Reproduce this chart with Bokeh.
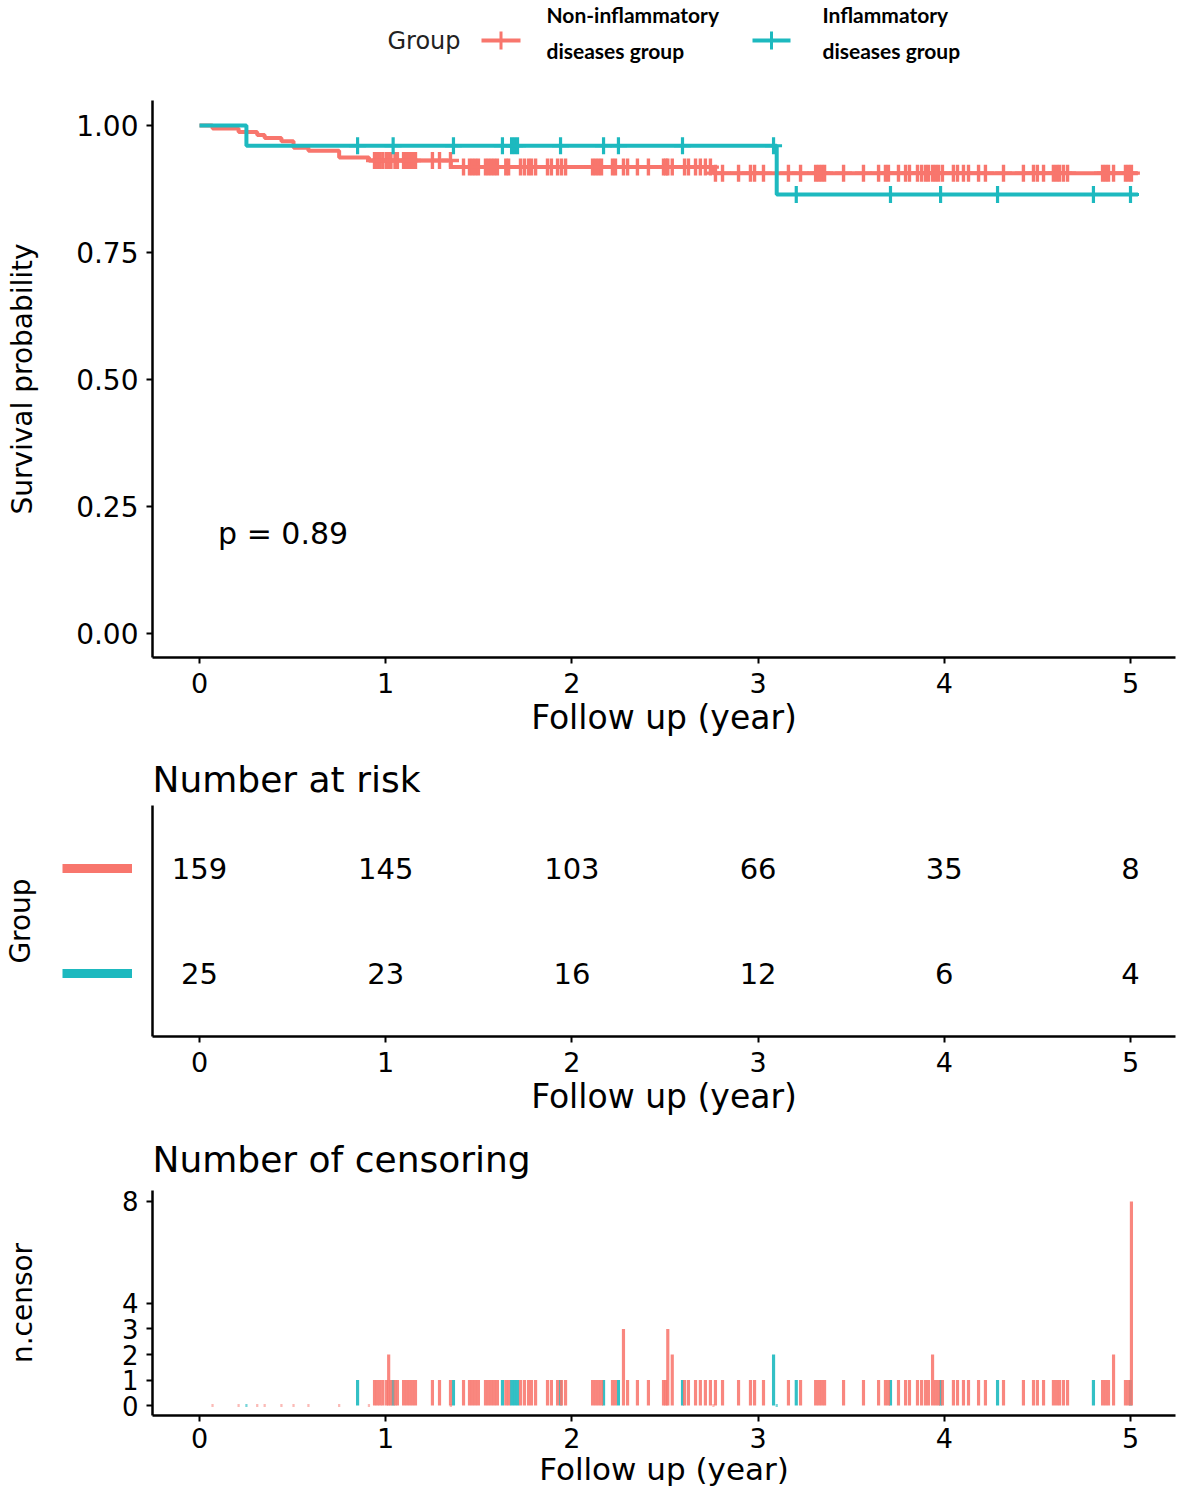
import numpy as np
from bokeh.plotting import figure
from bokeh.layouts import column, row
from bokeh.models import Range1d, FixedTicker, PrintfTickFormatter
from bokeh.core.properties import value
from bokeh.embed import file_html
from bokeh.resources import INLINE

# ---------------- data ----------------
group_names = ["Non-inflammatory diseases group", "Inflammatory diseases group"]
legend_title = "Group"
legend_lines = [["Non-inflammatory", "diseases group"], ["Inflammatory", "diseases group"]]
p_value_text = "p = 0.89"

years = [0, 1, 2, 3, 4, 5]
risk_non = [159, 145, 103, 66, 35, 8]
risk_inf = [25, 23, 16, 12, 6, 4]

max_follow = 5.04

# survival step curves (event times, survival after event)
non_event_t = [0.07, 0.21, 0.31, 0.35, 0.44, 0.505, 0.585, 0.75, 0.91, 1.35, 2.76]
non_event_s = [0.994, 0.987, 0.981, 0.975, 0.969, 0.956, 0.950, 0.937, 0.931, 0.918, 0.906]
inf_event_t = [0.252, 3.10]
inf_event_s = [0.960, 0.864]

# censoring times and counts
non_cens_t = [0.940, 0.955, 0.970, 0.985, 1.005, 1.016, 1.028, 1.050, 1.063,
              1.096, 1.112, 1.128, 1.144, 1.160, 1.251, 1.289, 1.348, 1.418,
              1.450, 1.466, 1.482, 1.498, 1.536, 1.552, 1.568, 1.584, 1.600,
              1.645, 1.660, 1.724, 1.745, 1.767, 1.783, 1.805, 1.869, 1.890,
              1.923, 1.944, 1.966,
              2.111, 2.127, 2.143, 2.159, 2.218, 2.234, 2.277, 2.299, 2.352,
              2.411, 2.492, 2.505, 2.515, 2.539, 2.605, 2.626, 2.664, 2.690,
              2.717, 2.744, 2.771, 2.809, 2.895, 2.959, 2.981,
              3.029, 3.163, 3.228, 3.309, 3.325, 3.341, 3.357, 3.459, 3.566,
              3.647, 3.684, 3.700, 3.754, 3.792, 3.813, 3.856, 3.878, 3.899,
              3.915, 3.937, 3.953, 3.969, 3.990,
              4.049, 4.071, 4.103, 4.130, 4.184, 4.221, 4.318, 4.425, 4.479,
              4.500, 4.533, 4.586, 4.603, 4.619, 4.640, 4.662, 4.850, 4.866,
              4.882, 4.909, 4.973, 4.989, 5.005]
non_cens_n = [1, 1, 1, 1, 1, 2, 1, 1, 1,
              1, 1, 1, 1, 1, 1, 1, 1, 1,
              1, 1, 1, 1, 1, 1, 1, 1, 1,
              1, 1, 1, 1, 1, 1, 1, 1, 1,
              1, 1, 1,
              1, 1, 1, 1, 1, 1, 3, 1, 1,
              1, 1, 1, 3, 2, 1, 1, 1, 1,
              1, 1, 1, 1, 1, 1, 1,
              1, 1, 1, 1, 1, 1, 1, 1, 1,
              1, 1, 1, 1, 1, 1, 1, 1, 1,
              1, 2, 1, 1, 1,
              1, 1, 1, 1, 1, 1, 1, 1, 1,
              1, 1, 1, 1, 1, 1, 1, 1, 1,
              1, 2, 1, 1, 8]
inf_cens_t = [0.849, 1.040, 1.364, 1.627, 1.676, 1.692, 1.708, 1.939, 2.170,
              2.250, 2.594, 3.083, 3.205, 3.711, 3.980, 4.286, 4.801, 5.000]
inf_cens_n = [1, 1, 1, 1, 1, 1, 1, 1, 1,
              1, 1, 2, 1, 1, 1, 1, 1, 1]

# ---------------- style ----------------
RED = "#F8766D"
TEAL = "#1DB9BF"
FONT = "DejaVu Sans"
W = 1181
BL = 152      # left border (frame left)
BR = 6        # right border
XR = (-0.2524, 5.2417)


def style_axis(ax, tick_size, label_size):
    ax.axis_line_width = 2.5
    ax.axis_line_color = "black"
    ax.major_tick_line_width = 2
    ax.major_tick_line_color = "black"
    ax.major_tick_out = 6
    ax.major_tick_in = 0
    ax.minor_tick_line_color = None
    ax.major_label_text_font = FONT
    ax.major_label_text_font_size = tick_size
    ax.major_label_text_color = "black"
    ax.axis_label_text_font = FONT
    ax.axis_label_text_font_size = label_size
    ax.axis_label_text_font_style = "normal"
    ax.axis_label_text_color = "black"


def base_fig(**kw):
    p = figure(output_backend="svg", toolbar_location=None, **kw)
    p.outline_line_color = None
    p.grid.visible = False
    p.background_fill_color = "white"
    p.border_fill_color = "white"
    return p


# ---------------- legend strip (frame aligned with the plots below) ----------------
LH = 88
leg = base_fig(width=W, height=LH, x_range=Range1d(BL, W - BR), y_range=Range1d(LH, 0),
               x_axis_location=None, y_axis_location=None, title=None,
               min_border_left=BL, min_border_right=BR, min_border_top=0, min_border_bottom=0)
leg.text(x=[387], y=[40], text=[legend_title], text_font=value(FONT), text_font_size="24px",
         text_color="#222222", text_baseline="middle", text_align="left")
key_x = [(481, 520), (752, 790)]
txt_x = [546, 822]
for (x0, x1), tx, col, lines in zip(key_x, txt_x, [RED, TEAL], legend_lines):
    leg.segment(x0=[x0], y0=[40], x1=[x1], y1=[40], line_color=col, line_width=4)
    xm = (x0 + x1) / 2
    leg.segment(x0=[xm], y0=[31], x1=[xm], y1=[49], line_color=col, line_width=3)
    leg.text(x=[tx, tx], y=[14, 50], text=lines, text_font=value("Lato"), text_font_size="21px",
             text_font_style="bold", text_color="black", text_baseline="middle", text_align="left")

# ---------------- survival plot ----------------
p1 = base_fig(width=W, height=661, x_range=Range1d(*XR), y_range=Range1d(-0.047, 1.049),
              title=None, min_border_left=BL, min_border_right=BR, min_border_top=12,
              min_border_bottom=92)


def curve(ev_t, ev_s):
    t = np.array([0.0] + ev_t + [max_follow])
    s = np.array([1.0] + ev_s + [ev_s[-1]])
    return t, s


def surv_at(ev_t, ev_s, times):
    st = np.array([1.0] + ev_s)
    idx = np.searchsorted(np.array(ev_t), np.array(times), side="right")
    return st[idx]


tn, sn = curve(non_event_t, non_event_s)
ti, si = curve(inf_event_t, inf_event_s)
p1.step(tn, sn, mode="after", line_color=RED, line_width=4)
p1.step(ti, si, mode="after", line_color=TEAL, line_width=4)
p1.scatter(non_cens_t, surv_at(non_event_t, non_event_s, non_cens_t), marker="cross",
           size=17, line_color=RED, line_width=3.4)
p1.scatter(inf_cens_t, surv_at(inf_event_t, inf_event_s, inf_cens_t), marker="cross",
           size=17, line_color=TEAL, line_width=3.2)
p1.text(x=[0.1], y=[0.197], text=[p_value_text], text_font=value(FONT), text_font_size="30px",
        text_color="black", text_baseline="middle", text_align="left")

p1.xaxis.ticker = FixedTicker(ticks=years)
p1.yaxis.ticker = FixedTicker(ticks=[0, 0.25, 0.5, 0.75, 1.0])
p1.yaxis.formatter = PrintfTickFormatter(format="%.2f")
p1.xaxis.axis_label = "Follow up (year)"
p1.yaxis.axis_label = "Survival probability"
style_axis(p1.xaxis[0], "27px", "33px")
style_axis(p1.yaxis[0], "28px", "28px")
p1.xaxis.major_label_standoff = 9
p1.xaxis.axis_label_standoff = 2
p1.yaxis.major_label_standoff = 8
p1.yaxis.axis_label_standoff = 34

# ---------------- risk table ----------------
H2 = 377
LW = 132
yr2 = Range1d(0.4, 2.6)
left = base_fig(width=LW, height=H2, x_range=Range1d(0, LW), y_range=yr2,
                x_axis_location=None, y_axis_location=None, title=None,
                min_border_left=0, min_border_right=0, min_border_top=56, min_border_bottom=90)
left.segment(x0=[62, 62], y0=[2, 1], x1=[132, 132], y1=[2, 1], line_color=[RED, TEAL],
             line_width=9)
left.text(x=[20], y=[1.5], text=[legend_title], angle=np.pi / 2, text_font=value(FONT),
          text_font_size="28px", text_color="black", text_baseline="middle", text_align="center")

p2 = base_fig(width=W - LW, height=H2, x_range=Range1d(*XR), y_range=yr2,
              title="Number at risk", min_border_left=BL - LW, min_border_right=BR,
              min_border_top=56, min_border_bottom=90)
p2.text(x=years, y=[2] * len(years), text=[str(v) for v in risk_non], text_font=value(FONT),
        text_font_size="29px", text_color="black", text_baseline="middle", text_align="center")
p2.text(x=years, y=[1] * len(years), text=[str(v) for v in risk_inf], text_font=value(FONT),
        text_font_size="29px", text_color="black", text_baseline="middle", text_align="center")
p2.xaxis.ticker = FixedTicker(ticks=years)
p2.xaxis.axis_label = "Follow up (year)"
style_axis(p2.xaxis[0], "27px", "33px")
p2.xaxis.major_label_standoff = 9
p2.xaxis.axis_label_standoff = 2
style_axis(p2.yaxis[0], "1px", "1px")
p2.yaxis.ticker = FixedTicker(ticks=[])
p2.yaxis.major_tick_out = 0
p2.title.text_font = FONT
p2.title.text_font_size = "36px"
p2.title.text_font_style = "normal"
p2.title.text_color = "black"
p2.title.align = "left"
p2.title.standoff = 11

# ---------------- censoring plot ----------------
p3 = base_fig(width=W, height=369, x_range=Range1d(*XR), y_range=Range1d(-0.392, 8.431),
              title="Number of censoring", min_border_left=BL, min_border_right=BR,
              min_border_top=64, min_border_bottom=80)
bw = 0.017
p3.vbar(x=inf_cens_t, top=inf_cens_n, bottom=0, width=bw, fill_color=TEAL, fill_alpha=0.9,
        line_color=None)
p3.vbar(x=non_cens_t, top=non_cens_n, bottom=0, width=bw, fill_color=RED, fill_alpha=0.88,
        line_color=None)
p3.vbar(x=non_event_t, top=0.06, bottom=-0.06, width=0.012, fill_color=RED, fill_alpha=0.5,
        line_color=None)
p3.vbar(x=inf_event_t, top=0.06, bottom=-0.06, width=0.012, fill_color=TEAL, fill_alpha=0.6,
        line_color=None)
p3.xaxis.ticker = FixedTicker(ticks=years)
p3.yaxis.ticker = FixedTicker(ticks=[0, 1, 2, 3, 4, 8])
p3.xaxis.axis_label = "Follow up (year)"
p3.yaxis.axis_label = "n.censor"
style_axis(p3.xaxis[0], "27px", "31px")
style_axis(p3.yaxis[0], "26px", "28px")
p3.xaxis.major_label_standoff = 6
p3.xaxis.axis_label_standoff = 0
p3.yaxis.major_label_standoff = 8
p3.yaxis.axis_label_standoff = 80
p3.title.text_font = FONT
p3.title.text_font_size = "36px"
p3.title.text_font_style = "normal"
p3.title.text_color = "black"
p3.title.align = "left"
p3.title.standoff = 21

layout = column(leg, p1, row(left, p2), p3)
open("out.html", "w").write(file_html(layout, INLINE))
